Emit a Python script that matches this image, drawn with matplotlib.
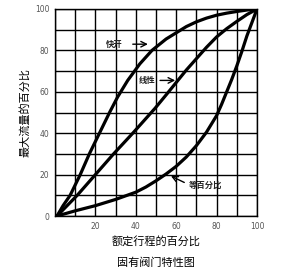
import matplotlib
matplotlib.use("Agg")
import matplotlib.pyplot as plt

plt.rcParams['font.family'] = ['Noto Sans CJK SC', 'DejaVu Sans']

# Data
quick_x = [1, 4, 7.5, 12.5, 17, 22, 27, 31, 36, 42, 48, 55, 60, 65, 70, 75, 80, 85, 90, 95, 100]
quick_y = [0, 5, 10, 20, 30, 40, 50, 57.5, 65.5, 73.5, 80, 85.5, 88.5, 91.5, 93.8, 95.6, 97, 98, 98.8, 99.5, 100]

linear_x = [1, 11, 20, 29, 38.5, 49.5, 55, 60, 65, 70, 75, 80, 85, 90, 95, 100]
linear_y = [0, 10, 20, 30, 40, 52, 58.5, 64.5, 70.5, 76, 81.5, 86.5, 90.5, 94, 97.3, 100]

eq_x = [1, 10, 20, 30, 40, 45, 50, 55, 60, 65, 70, 75, 80, 82.5, 85, 87.5, 90, 92.5, 95, 97.5, 100]
eq_y = [0, 2.5, 5, 8, 11.5, 14, 17, 20.3, 24, 28.5, 34, 40.5, 48.5, 54, 60, 66, 72.5, 79.5, 87, 93.5, 100]

ticks = [0, 20, 40, 60, 80, 100]
xtick_labels = ['', '20', '40', '60', '80', '100']
ytick_labels = ['0', '20', '40', '60', '80', '100']

xlabel = '额定行程的百分比'
ylabel = '最大流量的百分比'
title = '固有阀门特性图'
ann_quick = '快开'
ann_linear = '线性'
ann_eq = '等百分比'

fig = plt.figure(figsize=(2.92, 2.72), dpi=100)
ax = fig.add_axes([55/292, 1-216/272, (257-55)/292, (216-9)/272])

ax.set_xlim(0, 100)
ax.set_ylim(0, 100)
ax.set_xticks(ticks)
ax.set_yticks(ticks)
ax.set_xticks(range(10, 100, 20), minor=True)
ax.set_yticks(range(10, 100, 20), minor=True)
ax.set_axisbelow(True)
ax.grid(True, which='both', color='black', linewidth=1.0)
ax.tick_params(which='both', length=0)
ax.set_xticklabels(xtick_labels, fontsize=5.5, color='#555555', family='DejaVu Sans')
ax.set_yticklabels(ytick_labels, fontsize=5.5, color='#555555', family='DejaVu Sans')
ax.tick_params(axis='x', pad=4)
ax.tick_params(axis='y', pad=4)
for s in ax.spines.values():
    s.set_color('black')
    s.set_linewidth(1.0)

lw = 2.3
for xs, ys in ((quick_x, quick_y), (linear_x, linear_y), (eq_x, eq_y)):
    ax.plot(xs, ys, color='black', linewidth=lw, solid_capstyle='round', solid_joinstyle='round')

arrowprops = dict(arrowstyle='->', color='black', lw=1.0, shrinkA=0, shrinkB=0)
txt_kw = dict(fontsize=6, fontweight='bold', va='center', color='#222222')
ax.text(29.5, 83, ann_quick, ha='center', **txt_kw)
ax.annotate('', xy=(46, 83), xytext=(38.5, 83), arrowprops=arrowprops)
ax.text(45.5, 65.5, ann_linear, ha='center', **txt_kw)
ax.annotate('', xy=(59.5, 65.5), xytext=(52, 65.5), arrowprops=arrowprops)
ax.annotate('', xy=(57.4, 19.3), xytext=(64, 16.2), arrowprops=arrowprops)
ax.text(74.3, 15, ann_eq, ha='center', **txt_kw)

ax.set_xlabel(xlabel, fontsize=8, labelpad=4)
ax.set_ylabel(ylabel, fontsize=8, labelpad=3)
fig.text(156/292, 1-263/272, title, fontsize=8, ha='center', va='center')

fig.savefig('out.png', dpi=100)
